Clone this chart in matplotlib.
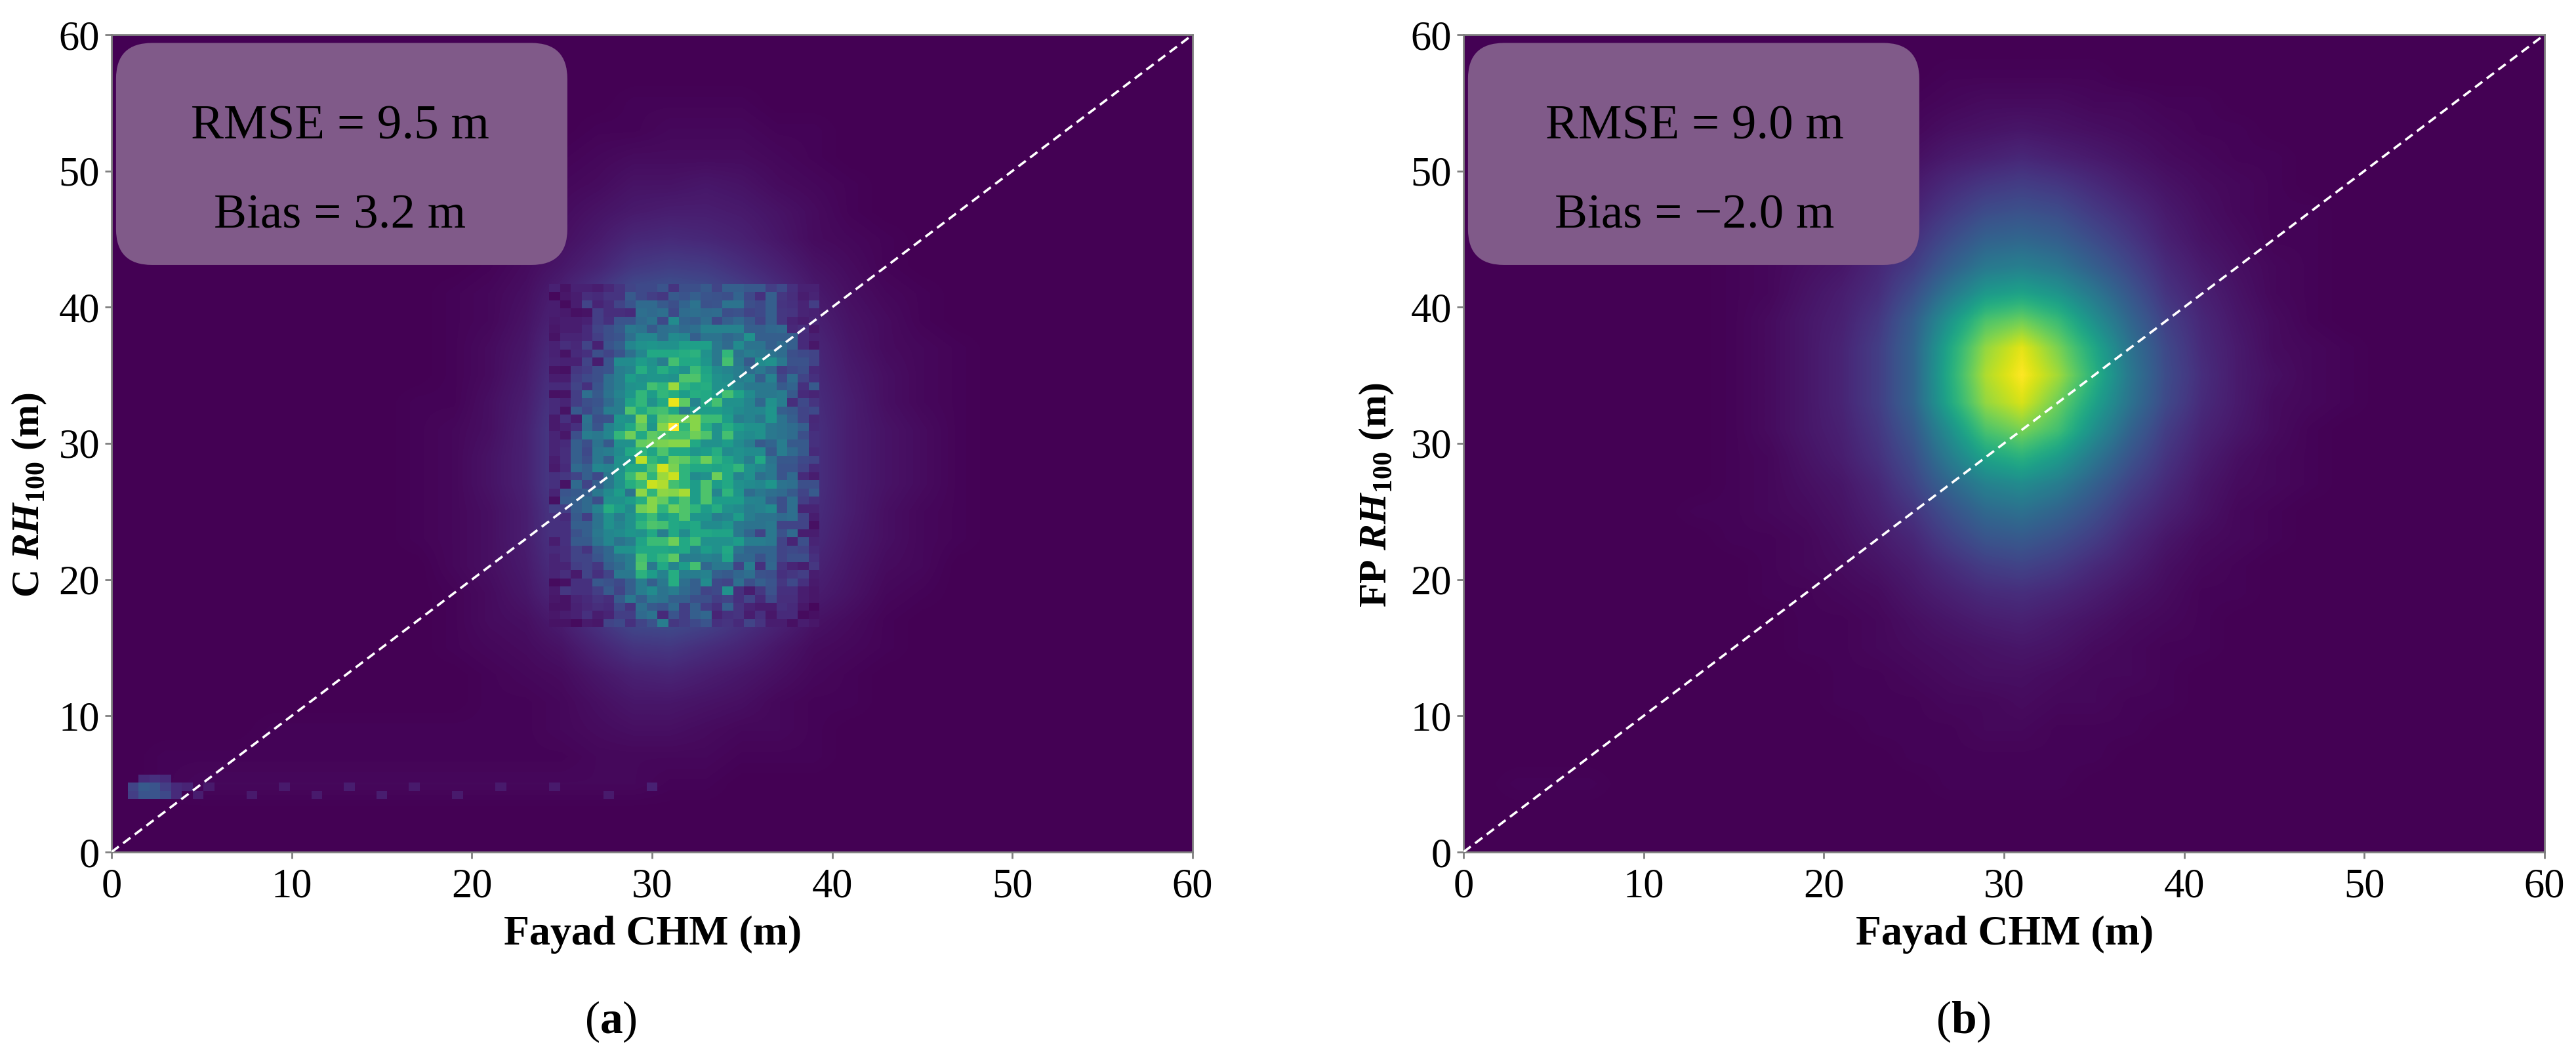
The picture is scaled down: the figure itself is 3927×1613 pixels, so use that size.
import numpy as np
import matplotlib
matplotlib.use('Agg')
import matplotlib.pyplot as plt
from matplotlib.patches import FancyBboxPatch

# density, in percent of the peak, 2 m cells
# rows run from y=59 (top) down to y=1, columns from x=1 to x=59
density_a = [
    [0]*30,
    [0]*30,
    [0,0,0,0,0,0,0,0,0,0,0,0,0,0,1,1,1,1,0,0,0,0,0,0,0,0,0,0,0,0],
    [0,0,0,0,0,0,0,0,0,0,0,0,0,1,1,2,2,2,1,1,0,0,0,0,0,0,0,0,0,0],
    [0,0,0,0,0,0,0,0,0,0,0,0,1,2,3,3,3,3,2,1,0,0,0,0,0,0,0,0,0,0],
    [0,0,0,0,0,0,0,0,0,0,0,1,2,3,5,5,6,5,3,2,1,0,0,0,0,0,0,0,0,0],
    [0,0,0,0,0,0,0,0,0,0,0,1,3,5,7,8,8,7,5,3,1,0,0,0,0,0,0,0,0,0],
    [0,0,0,0,0,0,0,0,0,0,1,2,4,7,11,12,11,9,6,3,2,1,0,0,0,0,0,0,0,0],
    [0,0,0,0,0,0,0,0,0,0,1,3,6,10,16,18,17,13,9,5,3,1,0,0,0,0,0,0,0,0],
    [0,0,0,0,0,0,0,0,0,1,2,4,9,16,24,26,24,19,13,7,4,2,1,0,0,0,0,0,0,0],
    [0,0,0,0,0,0,0,0,0,1,2,5,11,22,34,38,34,28,18,9,5,3,1,0,0,0,0,0,0,0],
    [0,0,0,0,0,0,0,0,0,1,3,6,14,30,46,50,47,37,24,11,6,3,2,1,0,0,0,0,0,0],
    [0,0,0,0,0,0,0,0,0,1,3,7,16,35,56,60,56,44,28,12,7,4,2,1,0,0,0,0,0,0],
    [0,0,0,0,0,0,0,0,1,1,4,8,18,40,64,68,64,50,32,13,8,4,2,1,0,0,0,0,0,0],
    [0,0,0,0,0,0,0,0,1,2,4,9,20,44,68,72,68,54,34,14,8,5,3,1,0,0,0,0,0,0],
    [0,0,0,0,0,0,0,0,1,2,5,9,20,46,70,74,68,52,34,14,8,5,3,1,0,0,0,0,0,0],
    [0,0,0,0,0,0,0,0,1,2,5,9,20,46,72,76,68,54,34,14,8,5,3,1,0,0,0,0,0,0],
    [0,0,0,0,0,0,0,0,1,2,4,8,18,42,68,72,64,50,32,13,8,4,2,1,0,0,0,0,0,0],
    [0,0,0,0,0,0,0,0,1,2,4,8,17,38,60,64,58,46,28,12,7,4,2,1,0,0,0,0,0,0],
    [0,0,0,0,0,0,0,0,0,2,4,7,15,32,52,56,50,38,24,10,6,3,2,0,0,0,0,0,0,0],
    [0,0,0,0,0,0,0,0,0,1,3,6,12,24,40,42,36,28,16,8,5,2,1,0,0,0,0,0,0,0],
    [0,0,0,0,0,0,0,0,0,1,3,4,8,15,23,24,21,15,10,5,3,1,0,0,0,0,0,0,0,0],
    [0,0,0,0,0,0,0,0,0,1,2,3,5,10,15,16,13,10,6,3,2,1,0,0,0,0,0,0,0,0],
    [0,0,0,0,0,0,0,0,0,0,1,2,3,6,9,10,8,6,4,2,1,0,0,0,0,0,0,0,0,0],
    [0,0,0,0,0,0,0,0,0,0,1,1,2,4,6,6,5,4,2,1,1,0,0,0,0,0,0,0,0,0],
    [0,0,0,0,1,1,1,1,1,1,1,1,2,3,4,4,3,2,2,1,0,0,0,0,0,0,0,0,0,0],
    [0,1,1,1,1,1,1,1,1,1,1,1,1,2,2,2,2,1,1,1,0,0,0,0,0,0,0,0,0,0],
    [0,1,2,2,2,2,2,2,2,2,2,2,2,2,2,1,1,0,0,0,0,0,0,0,0,0,0,0,0,0],
    [0]*30,
    [0]*30,
]
density_b = [
    [0]*30,
    [0,0,0,0,0,0,0,0,0,0,0,0,0,1,1,1,1,1,0,0,0,0,0,0,0,0,0,0,0,0],
    [0,0,0,0,0,0,0,0,0,0,0,0,1,2,3,3,3,2,2,1,1,0,0,0,0,0,0,0,0,0],
    [0,0,0,0,0,0,0,0,0,1,1,1,2,4,5,6,5,4,3,2,1,1,0,0,0,0,0,0,0,0],
    [0,0,0,0,0,0,0,0,0,1,1,2,4,7,9,11,9,7,5,3,2,1,1,0,0,0,0,0,0,0],
    [0,0,0,0,0,0,0,0,1,1,2,4,7,12,16,18,16,12,8,5,3,2,1,0,0,0,0,0,0,0],
    [0,0,0,0,0,0,0,0,1,2,3,6,10,17,23,25,23,17,12,7,4,2,1,1,0,0,0,0,0,0],
    [0,0,0,0,0,0,0,1,1,3,5,8,14,23,31,33,30,23,16,9,5,3,1,1,0,0,0,0,0,0],
    [0,0,0,0,0,0,0,1,2,4,6,11,18,30,40,43,39,30,21,12,7,4,2,1,0,0,0,0,0,0],
    [0,0,0,0,0,0,0,1,2,5,8,13,24,40,54,58,52,40,27,15,9,5,2,1,0,0,0,0,0,0],
    [0,0,0,0,0,0,0,1,3,6,9,16,30,52,72,78,68,50,33,19,11,6,3,1,0,0,0,0,0,0],
    [0,0,0,0,0,0,0,1,3,6,10,18,32,60,84,96,80,60,38,22,12,7,3,2,1,0,0,0,0,0],
    [0,0,0,0,0,0,0,1,3,6,10,18,32,62,88,100,86,64,40,23,13,7,4,2,1,0,0,0,0,0],
    [0,0,0,0,0,0,0,1,3,6,10,18,32,60,84,94,78,58,38,22,12,7,3,2,1,0,0,0,0,0],
    [0,0,0,0,0,0,0,1,3,6,9,16,28,50,72,80,70,50,32,18,10,6,3,1,0,0,0,0,0,0],
    [0,0,0,0,0,0,0,1,2,5,8,14,24,42,58,64,55,40,26,15,8,4,2,1,0,0,0,0,0,0],
    [0,0,0,0,0,0,0,1,2,4,6,11,20,33,44,48,42,31,20,12,6,3,2,1,0,0,0,0,0,0],
    [0,0,0,0,0,0,1,1,2,3,5,9,15,25,34,37,32,24,15,9,5,2,1,0,0,0,0,0,0,0],
    [0,0,0,0,0,0,0,1,1,2,4,7,11,19,26,28,24,18,11,6,3,2,1,0,0,0,0,0,0,0],
    [0,0,0,0,0,0,0,0,1,2,3,5,8,13,18,20,17,12,8,4,2,1,0,0,0,0,0,0,0,0],
    [0,0,0,0,0,0,0,0,1,1,2,3,6,9,12,13,11,8,5,3,1,1,0,0,0,0,0,0,0,0],
    [0,0,0,0,0,0,0,0,0,1,1,2,4,6,8,9,7,5,3,2,1,0,0,0,0,0,0,0,0,0],
    [0,0,0,0,0,0,0,0,0,1,1,2,3,4,5,6,5,3,2,1,1,0,0,0,0,0,0,0,0,0],
    [0,0,0,0,0,0,0,0,0,0,1,1,2,3,4,4,3,2,2,1,0,0,0,0,0,0,0,0,0,0],
    [0,0,0,0,0,0,0,0,0,0,1,1,1,2,2,3,2,2,1,1,0,0,0,0,0,0,0,0,0,0],
    [0,0,0,0,0,0,0,0,0,0,0,1,1,1,2,2,1,1,1,0,0,0,0,0,0,0,0,0,0,0],
    [0,0,0,0,0,0,0,0,0,0,0,0,1,1,1,1,1,1,0,0,0,0,0,0,0,0,0,0,0,0],
    [0,1,1,1,0,0,0,0,0,0,0,0,0,1,1,1,1,0,0,0,0,0,0,0,0,0,0,0,0,0],
    [0]*30,
    [0]*30,
]

# panel a bin by bin (0.6 m), percent. core: x from 27.9, top row ends at y=35.7
core_a = [
    [42,45,62,52,62,55,50,68,58,48,45,42,35],
    [42,55,50,52,52,50,72,72,60,50,48,42,45],
    [42,50,52,70,65,85,65,60,62,50,50,45,40],
    [45,52,66,55,66,62,55,62,60,55,70,58,48],
    [42,58,66,50,60,97,75,45,60,70,50,50,45],
    [42,72,60,68,70,60,42,55,55,55,52,48,45],
    [52,50,80,55,75,78,78,82,68,68,55,42,45],
    [50,60,75,52,82,100,66,82,62,50,62,55,50],
    [66,78,60,75,72,70,70,78,72,50,70,50,48],
    [50,50,76,78,80,82,82,60,50,50,55,48,42],
    [48,60,65,58,72,60,60,52,55,62,48,50,48],
    [50,52,90,66,60,78,75,66,78,65,58,50,42],
    [50,60,60,72,93,80,65,60,60,58,60,66,50],
    [52,68,82,65,85,92,65,48,50,78,60,45,50],
    [50,62,68,92,88,70,65,55,72,55,60,50,48],
    [55,38,83,65,83,82,87,55,72,45,65,52,35],
    [50,55,62,82,76,62,72,55,72,55,55,55,45],
    [55,48,78,82,65,78,72,65,55,62,50,48,42],
    [42,50,60,68,55,60,72,52,52,42,45,55,42],
    [45,50,65,72,70,60,58,60,48,48,52,40,38],
    [48,52,50,60,42,60,48,60,60,58,58,40,32],
    [38,42,58,68,68,78,60,68,50,50,50,55,42],
]
# six columns left of the core, x from 24.3
left_a = [
    [5,4,16,18,24,26],[8,8,18,22,24,36],[12,12,20,14,26,36],[4,5,18,36,28,38],
    [12,10,18,24,26,34],[12,5,28,22,28,42],[7,14,8,38,24,25],[7,9,14,36,26,44],
    [10,6,24,42,40,46],[10,12,30,24,38,28],[10,13,30,22,40,42],[8,13,30,24,40,30],
    [7,12,34,30,46,44],[14,16,20,30,22,40],[14,5,34,20,30,40],[10,26,28,30,40,48],
    [4,28,30,34,24,50],[18,18,30,34,44,62],[14,12,28,18,38,50],[14,14,30,30,38,50],
    [14,14,25,30,40,46],[8,14,28,28,38,46],
]
# six columns right of the core, x from 35.7
right_a = [
    [40,33,18,22,24,12],[30,44,22,35,20,14],[40,40,28,32,14,28],[40,40,42,28,12,10],
    [33,50,42,13,22,15],[46,52,30,28,20,22],[40,52,38,30,20,11],[50,40,38,35,30,12],
    [50,40,38,35,24,14],[28,32,42,28,28,14],[48,28,42,34,28,12],[60,38,27,27,22,20],
    [46,40,26,26,20,12],[36,40,26,34,12,8],[46,52,38,36,24,24],[40,36,34,28,20,28],
    [44,32,24,36,18,14],[44,48,24,36,10,10],[38,38,34,36,20,8],[38,40,20,20,20,4],
    [20,40,25,34,8,8],[42,40,20,10,24,10],
]
# ten rows above the core, y from 41.7 down, x from 24.3
top_a = [
    [9,5,9,9,8,11,15,20,22,22,26,15,24,24,28,20,30,30,27,27,18,22,14,9,9],
    [2,6,8,13,12,15,15,28,22,18,16,28,26,30,26,25,24,32,22,14,30,16,13,8,10],
    [8,3,8,20,10,13,20,26,34,34,28,24,32,38,25,26,38,38,24,22,30,15,14,10,18],
    [8,7,4,5,18,13,13,12,36,34,36,22,35,36,34,35,24,25,20,22,30,16,15,10,9],
    [7,8,8,9,18,14,26,26,34,38,22,48,32,30,36,22,30,34,28,20,30,16,10,8,10],
    [6,8,8,12,20,24,28,40,38,28,36,38,34,36,44,44,44,44,30,30,33,34,11,13,6],
    [5,10,10,12,18,24,26,36,46,46,36,48,46,30,38,38,33,36,50,30,30,30,30,12,9],
    [9,13,11,20,9,26,30,46,50,52,50,50,56,56,56,40,34,48,38,38,30,35,30,12,6],
    [9,5,12,14,24,20,26,36,46,60,60,60,62,64,50,40,66,38,42,40,38,35,24,22,20],
    [10,9,9,20,8,26,48,48,55,50,42,70,60,60,52,40,70,40,28,48,50,40,25,25,20],
]
# ten rows below the core, y from 22.5 down, x from 24.3
bottom_a = [
    [12,13,20,15,28,33,50,50,60,60,60,58,60,45,55,50,60,38,32,32,32,20,22,20,12],
    [10,13,20,20,26,33,38,42,70,60,66,75,42,42,44,42,58,33,33,25,32,20,24,24,14],
    [10,10,18,20,16,30,34,42,72,40,60,45,55,70,33,40,40,20,42,14,33,15,10,8,16],
    [10,13,7,20,14,20,40,40,64,55,44,62,42,42,44,30,28,33,36,25,24,14,16,18,8],
    [3,4,14,14,27,25,22,30,42,30,40,62,36,30,48,22,20,36,24,30,26,16,22,14,7],
    [7,16,14,14,18,28,20,30,42,48,38,42,34,30,20,22,50,14,8,16,25,14,14,8,6],
    [6,5,10,12,15,13,28,40,30,40,38,30,30,24,24,18,20,14,20,12,22,13,13,8,6],
    [5,5,9,11,13,12,22,15,36,28,26,34,18,30,18,14,30,15,10,8,8,14,12,6,2],
    [6,8,9,14,8,10,18,18,34,38,12,26,18,30,33,10,14,15,8,14,6,12,12,3,4],
    [5,5,3,7,6,20,22,14,20,25,42,16,18,22,26,14,15,12,20,15,8,8,4,8,6],
]

# low strip along the bottom of panel a
strip_x = [1.0,1.6,2.2,2.8,3.4,1.0,1.6,2.2,2.8,3.4,1.6,2.2,2.8,4.0,4.6,5.2,
           7.6,9.4,11.2,13.0,14.8,16.6,19.0,21.4,24.4,27.4,29.8]
strip_y = [3.9,3.9,3.9,3.9,3.9,4.5,4.5,4.5,4.5,4.5,5.1,5.1,5.1,4.5,3.9,4.5,
           3.9,4.5,3.9,4.5,3.9,4.5,3.9,4.5,4.5,3.9,4.5]
strip_v = [18,26,26,22,12,20,28,26,18,12,12,14,12,10,8,7,
           7,7,7,8,8,7,7,7,7,7,9]

ticks = [0, 10, 20, 30, 40, 50, 60]
ylabels = ['C $\\mathbfit{RH}_{\\mathbf{100}}$ (m)', 'FP $\\mathbfit{RH}_{\\mathbf{100}}$ (m)']
notes = [['RMSE = 9.5 m', 'Bias = 3.2 m'], ['RMSE = 9.0 m', 'Bias = \u22122.0 m']]
panels = ['($\\mathbf{a}$)', '($\\mathbf{b}$)']

plt.rcParams['font.family'] = ['Liberation Serif', 'DejaVu Serif']
plt.rcParams['mathtext.fontset'] = 'custom'
plt.rcParams['mathtext.rm'] = 'Liberation Serif'
plt.rcParams['mathtext.bf'] = 'Liberation Serif:bold'
plt.rcParams['mathtext.bfit'] = 'Liberation Serif:italic:bold'
plt.rcParams['lines.scale_dashes'] = False

W, H = 3927, 1613
fig = plt.figure(figsize=(W/100, H/100), dpi=100)
lefts = [170, 2231]
label_x = [45, 2099]
panel_x = [931, 2993]
note_x = [518, 2583]


def fill_bins(cells, table, top_row, first_col):
    # table rows go downwards from top_row on the 0.6 m grid
    for r, row in enumerate(table):
        for c, v in enumerate(row):
            cells[top_row-r, first_col+c] = v


for i, dens in enumerate([density_a, density_b]):
    ax = fig.add_axes([lefts[i]/W, 1-1299/H, 1648/W, 1246/H])
    ax.imshow(np.array(dens), cmap='viridis', vmin=0, vmax=100, extent=[0, 60, 0, 60],
              aspect='auto', interpolation='bilinear', zorder=1)
    if i == 0:
        # put the read bins on the 0.6 m grid of the histogram
        edges = -0.3 + 0.6*np.arange(102)
        cells = np.ma.masked_all((101, 101))
        for x, y, v in zip(strip_x, strip_y, strip_v):
            cells[int((y+0.3)/0.6), int((x+0.3)/0.6)] = v
        fill_bins(cells, core_a, 59, 47)
        fill_bins(cells, left_a, 59, 41)
        fill_bins(cells, right_a, 59, 60)
        fill_bins(cells, top_a, 69, 41)
        fill_bins(cells, bottom_a, 37, 41)
        ax.pcolormesh(edges, edges, cells, cmap='viridis', vmin=0, vmax=100, zorder=2)
    ax.plot([0, 60], [0, 60], color='white', lw=2.6, linestyle=(0, (10, 6)), zorder=3)
    ax.add_patch(FancyBboxPatch((0.25, 43.1), 25.05, 16.3,
                                boxstyle='round,pad=0,rounding_size=2',
                                mutation_aspect=1.32, facecolor='#805a89',
                                edgecolor='none', zorder=4))
    for text, ypx in zip(notes[i], [212, 348]):
        fig.text(note_x[i]/W, 1-ypx/H, text, fontsize=54, ha='center', va='baseline',
                 color='black', zorder=5)
    ax.set_xlim(0, 60)
    ax.set_ylim(0, 60)
    ax.set_xticks(ticks)
    ax.set_yticks(ticks)
    ax.tick_params(labelsize=45, length=7, width=2, color='#808080')
    ax.tick_params(axis='x', pad=11)
    ax.tick_params(axis='y', pad=6)
    for name, spine in ax.spines.items():
        spine.set_color('#808080')
        spine.set_linewidth(2)
    fig.text((lefts[i]+825)/W, 1-1440/H, 'Fayad CHM (m)', fontsize=46, fontweight='bold',
             ha='center', va='baseline')
    fig.text(label_x[i]/W, 1-754/H, ylabels[i], fontsize=43, fontweight='bold', rotation=90,
             ha='center', va='center')
    fig.text(panel_x[i]/W, 1-1558/H, panels[i], fontsize=50, ha='center', va='center')

fig.savefig('out.png', dpi=100)
